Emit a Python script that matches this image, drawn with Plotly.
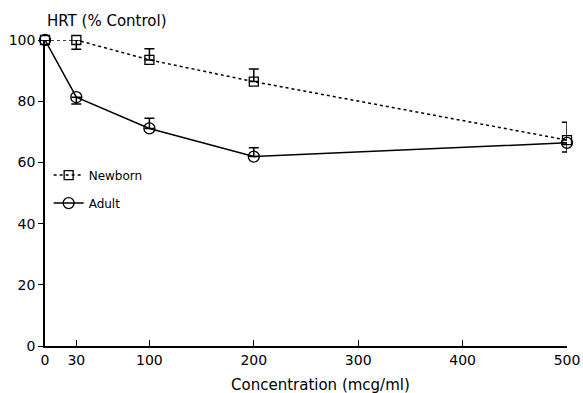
import plotly.graph_objects as go

conc = [0, 30, 100, 200, 500]
newborn = [100, 100, 93.5, 86.4, 67.3]
newborn_err_up = [0, 0, 3.6, 4.1, 5.8]
newborn_err_down = [0, 3.0, 0, 0, 0]
adult = [100, 81.3, 71.1, 61.9, 66.4]
adult_err_up = [0, 0, 3.3, 2.9, 0]
adult_err_down = [0, 2.2, 0, 0, 3.0]
x_ticks = [0, 30, 100, 200, 300, 400, 500]
y_ticks = [0, 20, 40, 60, 80, 100]

FONT = "DejaVu Sans"
fig = go.Figure()
fig.add_trace(go.Scatter(
    x=conc, y=newborn, name="Newborn", mode="lines+markers", legendgroup="nb",
    line=dict(color="black", width=1.5, dash="3px,3px"),
    marker=dict(symbol="square-open", size=9, color="black", line=dict(width=1.3)),
    error_y=dict(type="data", symmetric=False, array=newborn_err_up,
                 arrayminus=newborn_err_down, color="black", thickness=1.5, width=5),
    cliponaxis=False,
))
fig.add_trace(go.Scatter(
    x=conc, y=adult, name="Adult", mode="lines+markers", legendgroup="ad",
    line=dict(color="black", width=1.5),
    marker=dict(symbol="circle-open", size=11, color="black", line=dict(width=1.3)),
    error_y=dict(type="data", symmetric=False, array=adult_err_up,
                 arrayminus=adult_err_down, color="black", thickness=1.5, width=5),
    cliponaxis=False,
))

fig.update_layout(
    width=583, height=393,
    margin=dict(l=45, r=16, t=40, b=47),
    paper_bgcolor="white", plot_bgcolor="white",
    font=dict(family=FONT, color="black", size=13),
    showlegend=True,
    legend=dict(x=0.007, y=0.606, xanchor="left", yanchor="top",
                font=dict(family=FONT, size=12), itemwidth=30,
                bgcolor="rgba(0,0,0,0)", tracegroupgap=9),
    xaxis=dict(range=[0, 500], tickvals=x_ticks, ticktext=[str(v) for v in x_ticks],
               ticks="inside", ticklen=6, tickcolor="black", tickwidth=1.2,
               showline=True, linecolor="black", linewidth=1.5, showgrid=False,
               zeroline=False, tickfont=dict(size=14), automargin=False),
    yaxis=dict(range=[0, 100], tickvals=y_ticks,
               ticks="outside", ticklen=5, tickcolor="black", tickwidth=1.2,
               showline=True, linecolor="black", linewidth=1.5, showgrid=False,
               zeroline=False, tickfont=dict(size=14), automargin=False),
    annotations=[
        dict(text="HRT (% Control)", xref="paper", yref="paper",
             x=0, y=1, xanchor="left", yanchor="bottom", yshift=8,
             showarrow=False, font=dict(family=FONT, size=15)),
        dict(text="Concentration (mcg/ml)", xref="paper", yref="paper",
             x=0.527, y=-0.127, xanchor="center", yanchor="middle",
             showarrow=False, font=dict(family=FONT, size=15)),
    ],
)

fig.write_html("out.html", config={"displayModeBar": False},
               post_script="document.body.style.margin='0';")
